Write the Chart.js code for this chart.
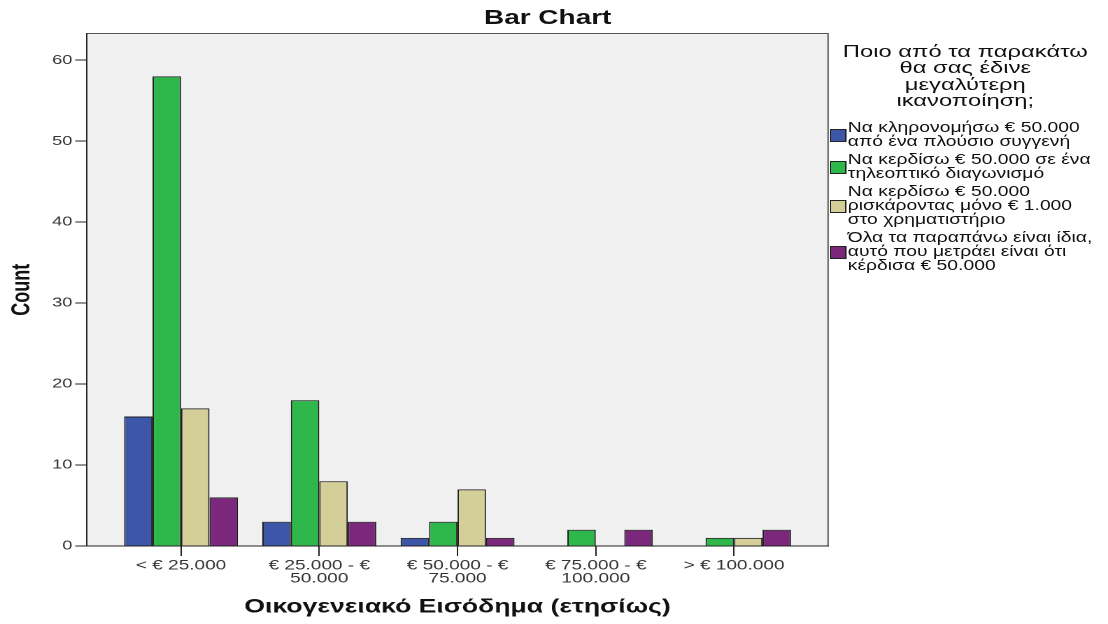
<!DOCTYPE html>
<html>
<head>
<meta charset="utf-8">
<script src="https://cdn.jsdelivr.net/npm/chart.js@4"></script>
<style>
  html, body { margin: 0; padding: 0; background: #fff; overflow: hidden; }
  /* the SPSS export is stretched sideways, so the whole drawing is laid out narrow and scaled */
  #wrap {
    position: absolute; left: 0; top: 0;
    width: 792px; height: 624px;
    transform: scaleX(1.39899); transform-origin: 0 0;
    font-family: "Liberation Sans", Arial, sans-serif;
    color: #111;
  }
  #chart { position: absolute; left: 0; top: 0; }
  #title {
    position: absolute; left: 0; top: 5px; width: 783px;
    text-align: center; font-weight: bold; font-size: 20px; line-height: 24px;
  }
  #legend-title {
    position: absolute; left: 600px; top: 43.5px; width: 180px;
    text-align: center; font-size: 17px; line-height: 16.6px;
  }
  #legend { position: absolute; left: 593px; top: 121px; width: 200px; }
  .item { display: flex; align-items: center; margin-bottom: 4px; }
  .box { width: 10px; height: 11px; border: 1px solid #222; margin-right: 1px; flex: none; }
  .text { font-size: 13.8px; line-height: 14px; white-space: nowrap; }
</style>
</head>
<body>
<div id="wrap">
  <canvas id="chart" width="792" height="624"></canvas>
  <div id="title">Bar Chart</div>
  <div id="legend-title"></div>
  <div id="legend"></div>
</div>
<script>
// ----------------------
// DATA
// ----------------------
const incomeLabels = [
  ["< € 25.000"],
  ["€ 25.000 - €", "50.000"],
  ["€ 50.000 - €", "75.000"],
  ["€ 75.000 - €", "100.000"],
  ["> € 100.000"],
];
const inheritCounts = [16, 3, 1, 0, 0];
const contestCounts = [58, 18, 3, 2, 1];
const stockCounts = [17, 8, 7, 0, 1];
const sameCounts = [6, 3, 1, 2, 2];
const countTicks = [0, 10, 20, 30, 40, 50, 60];

const legendTitle = ["Ποιο από τα παρακάτω", "θα σας έδινε", "μεγαλύτερη", "ικανοποίηση;"];
const seriesNames = [
  ["Να κληρονομήσω € 50.000", "από ένα πλούσιο συγγενή"],
  ["Να κερδίσω € 50.000 σε ένα", "τηλεοπτικό διαγωνισμό"],
  ["Να κερδίσω € 50.000", "ρισκάροντας μόνο € 1.000", "στο χρηματιστήριο"],
  ["Όλα τα παραπάνω είναι ίδια,", "αυτό που μετράει είναι ότι", "κέρδισα € 50.000"],
];
const seriesColors = ["#3d56a8", "#2eb84b", "#d4cf98", "#7b287c"];
const seriesCounts = [inheritCounts, contestCounts, stockCounts, sameCounts];

// ----------------------
// LEGEND (html)
// ----------------------
document.getElementById("legend-title").innerHTML = legendTitle.join("<br>");
document.getElementById("legend").innerHTML = seriesNames
  .map((lines, i) =>
    `<div class="item"><span class="box" style="background:${seriesColors[i]}"></span>` +
    `<span class="text">${lines.join("<br>")}</span></div>`)
  .join("");

// ----------------------
// PLOT BACKGROUND + FRAME
// ----------------------
const plotFrame = {
  id: "plotFrame",
  beforeDraw(chart) {
    const { ctx, chartArea: a } = chart;
    ctx.save();
    ctx.fillStyle = "#f0f0f0";
    ctx.fillRect(a.left, a.top, a.right - a.left, a.bottom - a.top);
    ctx.strokeStyle = "#555";
    ctx.lineWidth = 1;
    ctx.beginPath();
    ctx.moveTo(a.left, a.top);
    ctx.lineTo(a.right, a.top);
    ctx.lineTo(a.right, a.bottom);
    ctx.stroke();
    ctx.restore();
  },
};

// ----------------------
// CHART
// ----------------------
Chart.defaults.font.family = '"Liberation Sans", Arial, sans-serif';

new Chart(document.getElementById("chart"), {
  type: "bar",
  data: {
    datasets: seriesCounts.map((counts, i) => ({
      label: seriesNames[i].join(" "),
      data: counts.map((v, x) => ({ x, y: v === 0 ? null : v })),
      backgroundColor: seriesColors[i],
      borderColor: "#1e1e1e",
      borderWidth: 1,
      categoryPercentage: 0.824,
      barPercentage: 1,
    })),
  },
  options: {
    responsive: false,
    animation: false,
    devicePixelRatio: 2,
    layout: { padding: { left: 0, right: 200.1, top: 33.5, bottom: 0 } },
    plugins: { legend: { display: false }, title: { display: false }, tooltip: { enabled: false } },
    scales: {
      x: {
        type: "linear",
        min: -0.68,
        max: 4.68,
        offset: false,
        afterBuildTicks: (scale) => { scale.ticks = incomeLabels.map((_, i) => ({ value: i })); },
        afterFit: (scale) => { scale.height = 78; },
        ticks: {
          callback: (v) => incomeLabels[v],
          color: "#333",
          font: { size: 13.6, lineHeight: 0.98 },
          padding: 3,
          maxRotation: 0,
          autoSkip: false,
        },
        grid: { offset: false, drawOnChartArea: false, drawTicks: true, tickLength: 10, color: "#222" },
        border: { display: true, color: "#222", width: 1 },
        title: {
          display: true,
          text: "Οικογενειακό Εισόδημα (ετησίως)",
          color: "#111",
          font: { size: 19, weight: "bold" },
          padding: { top: 0, bottom: 5.5 },
        },
      },
      y: {
        min: 0,
        max: 63.3,
        afterBuildTicks: (scale) => { scale.ticks = countTicks.map((v) => ({ value: v })); },
        afterFit: (scale) => { scale.width = 62.2; },
        ticks: { color: "#333", font: { size: 13 }, padding: 2 },
        grid: { drawOnChartArea: false, drawTicks: true, tickLength: 8.5, color: "#222" },
        border: { display: true, color: "#222", width: 1 },
        title: {
          display: true,
          text: "Count",
          color: "#111",
          font: { size: 18, weight: "bold" },
          padding: { top: 5, bottom: 0 },
        },
      },
    },
  },
  plugins: [plotFrame],
});
</script>
</body>
</html>
